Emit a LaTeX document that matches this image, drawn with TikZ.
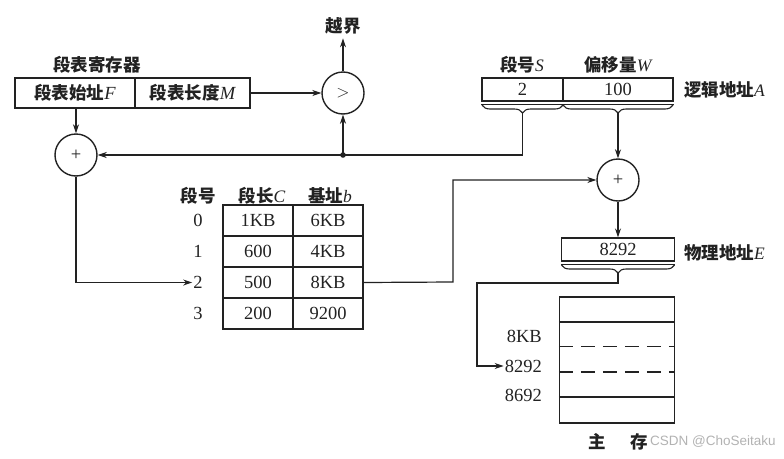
\documentclass[tikz,border=0pt]{standalone}
\usepackage{fontspec}
\setmainfont{Liberation Serif}
\newfontfamily\cjk{Noto Sans CJK SC}
\newfontfamily\wmfont{Liberation Sans}
\newcommand\iv[1]{{\normalfont\itshape #1}}
\usetikzlibrary{arrows.meta,decorations.pathreplacing}
\definecolor{ink}{HTML}{222222}
\begin{document}
\begin{tikzpicture}[x=1pt,y=-1pt,
  every node/.style={font=\fontsize{18.5}{20}\selectfont, inner sep=0pt, text=ink},
  ln/.style={line width=1.2pt, draw=ink},
  arr/.style={ln,-{Stealth[length=9pt,width=6pt]}},
  circ/.style={circle,draw=ink,line width=1.4pt,minimum size=42pt},
  cell/.style={draw=ink,line width=1.3pt},
  brc/.style={decorate,decoration={brace,mirror,amplitude=8pt},line width=1.1pt,draw=ink},
  lbl/.style={font=\fontsize{17.5}{20}\selectfont\cjk\bfseries}
]
\useasboundingbox (0,0) rectangle (784,458);

% segment table register
\node[lbl] (regt) at (97,65) {段表寄存器};
\node[cell,minimum width=120pt,minimum height=30pt] (rF) at (75,93) {{\cjk\bfseries\fontsize{17.5}{20}\selectfont 段表始址}\iv{F}};
\node[cell,minimum width=115pt,minimum height=30pt] (rM) at (192.5,93) {{\cjk\bfseries\fontsize{17.5}{20}\selectfont 段表长度}\iv{M}};

% comparator
\node[circ] (cmp) at (343,93) {$>$};
\node[lbl,outer sep=4pt] (yj) at (343,26) {越界};
\draw[arr] (rM.east) -- (cmp.west);
\draw[arr] (cmp.north) -- (yj.south);

% left adder
\node[circ] (pl1) at (76,155) {+};
\draw[arr] (pl1 |- rF.south) -- (pl1.north);

% logical address
\node[lbl] (hS) at (522,65) {段号\iv{S}};
\node[lbl] (hW) at (618,65) {偏移量\iv{W}};
\node[cell,minimum width=81pt,minimum height=23pt] (aS) at (522.5,89.5) {2};
\node[cell,minimum width=110pt,minimum height=23pt] (aW) at (618,89.5) {100};
\node[lbl,anchor=west] (la) at (684,90) {逻辑地址\iv{A}};
\draw[ln] (aS.south west) ++(0,3) -- ([yshift=-3pt]aW.south east);
\draw[brc] (482,105) -- (563,105);
\draw[brc] (563,105) -- (673,105);
\coordinate (bS) at (522.5,113);
\coordinate (bW) at (618,113);
\coordinate (jn) at (343,155);

% right adder
\node[circ] (pl2) at (618,180) {+};
\draw[arr] (bS) |- (pl1.east);
\fill[ink] (jn) circle (2.8pt);
\draw[arr] (jn) -- (cmp.south);
\draw[arr] (bW) -- (pl2.north);

% segment table
\node[lbl] (h0) at (198,196) {段号};
\node[lbl] (hC) at (262,196) {段长\iv{C}};
\node[lbl] (hb) at (330,196) {基址\iv{b}};
\foreach \i/\c/\b [count=\k from 0] in {0/1KB/6KB,1/600/4KB,2/500/8KB,3/200/9200}{
  \node (n\i) at (198,220.5+31*\k) {\i};
  \node[cell,minimum width=70pt,minimum height=31pt] (c\i) at (258,220.5+31*\k) {\c};
  \node[cell,minimum width=70pt,minimum height=31pt] (b\i) at (328,220.5+31*\k) {\b};
}
\draw[arr] (pl1.south) |- ([xshift=-1pt]n2.west);
\coordinate (bend) at (453,282);
\draw[arr] (b2.east) -- (bend) |- (pl2.west);

% physical address
\node[cell,minimum width=113pt,minimum height=23pt] (pa) at (618,249.5) {8292};
\node[lbl,anchor=west] (pe) at (684,253) {物理地址\iv{E}};
\draw[ln] (pa.south west) ++(0,3) -- ([yshift=-3pt]pa.south east);
\draw[brc] (561.5,265) -- (674.5,265);
\coordinate (bE) at (618,273);
\coordinate (c1) at (477,283);
\draw[arr] (pl2.south) -- (pa.north);

% main memory
\node[cell,minimum width=115pt,minimum height=126pt] (mem) at (617,360) {};
\draw[ln] (mem.west |- 0,322) -- (mem.east |- 0,322);
\draw[ln,dash pattern=on 14pt off 8pt] (mem.west |- 0,346.5) -- (mem.east |- 0,346.5);
\draw[ln,dash pattern=on 14pt off 8pt] (mem.west |- 0,372) -- (mem.east |- 0,372);
\draw[ln] (mem.west |- 0,397) -- (mem.east |- 0,397);
\node[anchor=east] (m1) at (542,336) {8KB};
\node[anchor=east] (m2) at (542,366) {8292};
\node[anchor=east] (m3) at (542,395) {8692};
\draw[arr] (bE) |- (c1) |- ([xshift=-1pt]m2.west);
\node[lbl] (zc) at (618,442) {主\hspace{24pt}存};
\node[anchor=west,font=\fontsize{13.5}{15}\selectfont\wmfont,text=black!30] (wm) at (650,442) {CSDN @ChoSeitaku};
\end{tikzpicture}
\end{document}
